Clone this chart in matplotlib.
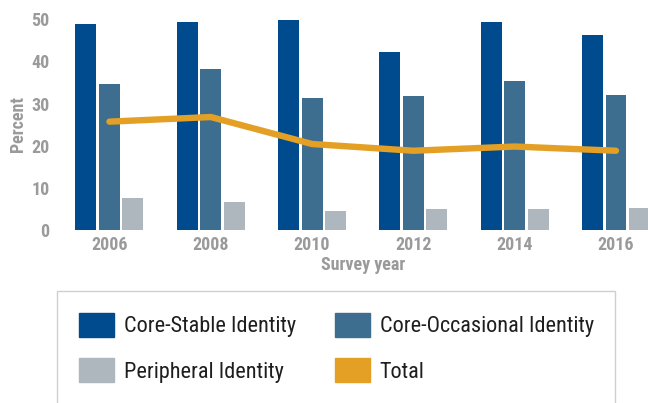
import numpy as np
import matplotlib.pyplot as plt
from matplotlib.patches import Patch

years = ["2006", "2008", "2010", "2012", "2014", "2016"]
core_stable = [48.9, 49.4, 49.9, 42.3, 49.4, 46.3]
core_occasional = [34.7, 38.2, 31.4, 31.8, 35.4, 32.1]
peripheral = [7.6, 6.7, 4.5, 5.0, 5.0, 5.2]
total = [25.7, 26.8, 20.4, 18.8, 19.8, 18.8]

series_names = ["Core-Stable Identity", "Core-Occasional Identity", "Peripheral Identity", "Total"]
colors = ["#004b8d", "#3d6e8f", "#adb7bd", "#e3a024"]

plt.rcParams['font.family'] = ["Roboto Condensed", "Archivo Narrow", "DejaVu Sans"]

fig = plt.figure(figsize=(6.48, 4.03), dpi=100)
W, H = 648, 403
ax = fig.add_axes([59.4 / W, 1 - 230 / H, (648 - 59.4) / W, (230 - 15) / H])

x = np.arange(len(years))
step = 0.232
width = 0.207
for k, vals in enumerate([core_stable, core_occasional, peripheral]):
    ax.bar(x + (k - 1) * step, vals, width, color=colors[k])
ax.plot(x, total, color=colors[3], lw=4.6, solid_capstyle='round', solid_joinstyle='round')

ax.set_xlim(-0.494, 5.316)
ax.set_ylim(0, 51)
ax.set_yticks([0, 10, 20, 30, 40, 50])
ax.set_xticks(x)
ax.set_xticklabels(years)
for s in ax.spines.values():
    s.set_visible(False)
ax.tick_params(length=0, labelsize=13, labelcolor="#9a9a9a", pad=4)
ax.tick_params(axis='y', pad=7)
for lab in ax.get_xticklabels() + ax.get_yticklabels():
    lab.set_fontweight('bold')

ax.set_xlabel("Survey year", fontsize=13, fontweight='bold', color="#9a9a9a")
ax.xaxis.set_label_coords((2.5 + 0.494) / 5.81, -0.12)
ax.set_ylabel("Percent", fontsize=13, fontweight='bold', color="#9a9a9a")
ax.yaxis.set_label_coords(-0.055, 0.493)

# legend laid out row by row: stable, occasional / peripheral, total
handles = [Patch(color=colors[0]), Patch(color=colors[2]),
           Patch(color=colors[1]), Patch(color=colors[3])]
labels = [series_names[0], series_names[2], series_names[1], series_names[3]]
leg = fig.legend(handles=handles, labels=labels, ncol=2,
                 loc='upper left', bbox_to_anchor=(57 / W, 1 - 291 / H),
                 fontsize=16, frameon=True, fancybox=False, edgecolor="#c4c4c4",
                 handlelength=1.58, handleheight=1.3, handletextpad=0.45,
                 columnspacing=1.75, labelspacing=0.95, borderpad=0.97,
                 borderaxespad=0)
leg.get_frame().set_linewidth(1.0)
for t in leg.get_texts():
    t.set_color("#1e1e1e")

fig.savefig("out.png", dpi=100)
